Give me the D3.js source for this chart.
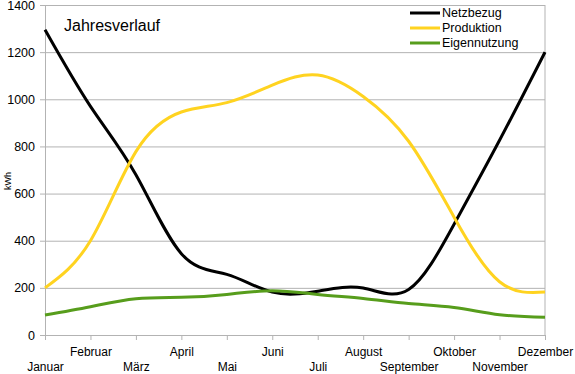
<!DOCTYPE html>
<html>
<head>
<meta charset="utf-8">
<script src="https://cdn.jsdelivr.net/npm/d3@7"></script>
<style>
  body { margin: 0; background: #fff; }
  svg { display: block; font-family: "Liberation Sans", Arial, sans-serif; }
</style>
</head>
<body>
<svg id="chart" width="575" height="374"></svg>
<script>
// months on the x axis
const months = ["Januar", "Februar", "März", "April", "Mai", "Juni", "Juli",
  "August", "September", "Oktober", "November", "Dezember"];
// values in kWh
const netzbezug = [1295, 970, 680, 345, 257, 182, 186, 199, 193, 470, 826, 1200];
const produktion = [200, 400, 778, 946, 986, 1060, 1103, 1012, 822, 500, 226, 182];
const eigennutzung = [85, 120, 154, 160, 172, 188, 172, 155, 134, 117, 86, 75];
const yTicks = [0, 200, 400, 600, 800, 1000, 1200, 1400];

const series = [
  { name: "Netzbezug", values: netzbezug, color: "#000000" },
  { name: "Produktion", values: produktion, color: "#ffd320" },
  { name: "Eigennutzung", values: eigennutzung, color: "#579d1c" }
];

const svg = d3.select("#chart");
const margin = { top: 5, right: 30, bottom: 39, left: 45 };
const width = 575 - margin.left - margin.right;
const height = 374 - margin.top - margin.bottom;

const x = d3.scalePoint().domain(months).range([0, width]);
const y = d3.scaleLinear().domain([0, 1400]).range([height, 0]);

const g = svg.append("g").attr("transform", `translate(${margin.left},${margin.top})`);

// horizontal gridlines
g.append("g")
  .call(d3.axisLeft(y).tickValues(yTicks).tickSize(-width).tickFormat(""))
  .call(s => s.select(".domain").remove())
  .selectAll("line").attr("stroke", "#b3b3b3");

// right border
g.append("line")
  .attr("x1", width).attr("x2", width)
  .attr("y1", 0).attr("y2", height)
  .attr("stroke", "#b3b3b3");

// y axis
const yAxis = g.append("g")
  .call(d3.axisLeft(y).tickValues(yTicks).tickFormat(d3.format("d"))
    .tickSize(5).tickSizeOuter(0).tickPadding(5));
yAxis.select(".domain").attr("stroke", "#b3b3b3");
yAxis.selectAll("line").attr("stroke", "#b3b3b3");
yAxis.selectAll("text").attr("font-size", 12.5).attr("fill", "#000")
  .attr("font-family", "Liberation Sans, Arial, sans-serif");

// x axis with staggered labels
const xAxis = g.append("g")
  .attr("transform", `translate(0,${height})`)
  .call(d3.axisBottom(x).tickSize(5).tickSizeOuter(0));
xAxis.select(".domain").attr("stroke", "#b3b3b3");
xAxis.selectAll("line").attr("stroke", "#b3b3b3");
xAxis.selectAll("text")
  .attr("font-size", 12).attr("fill", "#000")
  .attr("font-family", "Liberation Sans, Arial, sans-serif")
  .attr("dy", 0)
  .attr("y", (d, i) => i % 2 === 0 ? 36 : 21);

// y axis title
svg.append("text")
  .attr("transform", "translate(11,181) rotate(-90)")
  .attr("text-anchor", "middle")
  .attr("font-size", 9)
  .text("kWh");

// lines
const line = d3.line()
  .x((d, i) => x(months[i]))
  .y(d => y(d))
  .curve(d3.curveNatural);

g.selectAll("path.series")
  .data(series)
  .enter().append("path")
  .attr("class", "series")
  .attr("fill", "none")
  .attr("stroke", d => d.color)
  .attr("stroke-width", 3)
  .attr("stroke-linejoin", "round")
  .attr("d", d => line(d.values));

// title inside the plot
svg.append("text")
  .attr("x", 64).attr("y", 31)
  .attr("font-size", 16)
  .text("Jahresverlauf");

// legend
const legend = svg.append("g").attr("transform", "translate(410,13)");
const item = legend.selectAll("g")
  .data(series)
  .enter().append("g")
  .attr("transform", (d, i) => `translate(0,${i * 15})`);
item.append("line")
  .attr("x1", 0).attr("x2", 30)
  .attr("stroke", d => d.color)
  .attr("stroke-width", 3);
item.append("text")
  .attr("x", 32).attr("dy", "0.35em")
  .attr("font-size", 12.5)
  .text(d => d.name);
</script>
</body>
</html>
